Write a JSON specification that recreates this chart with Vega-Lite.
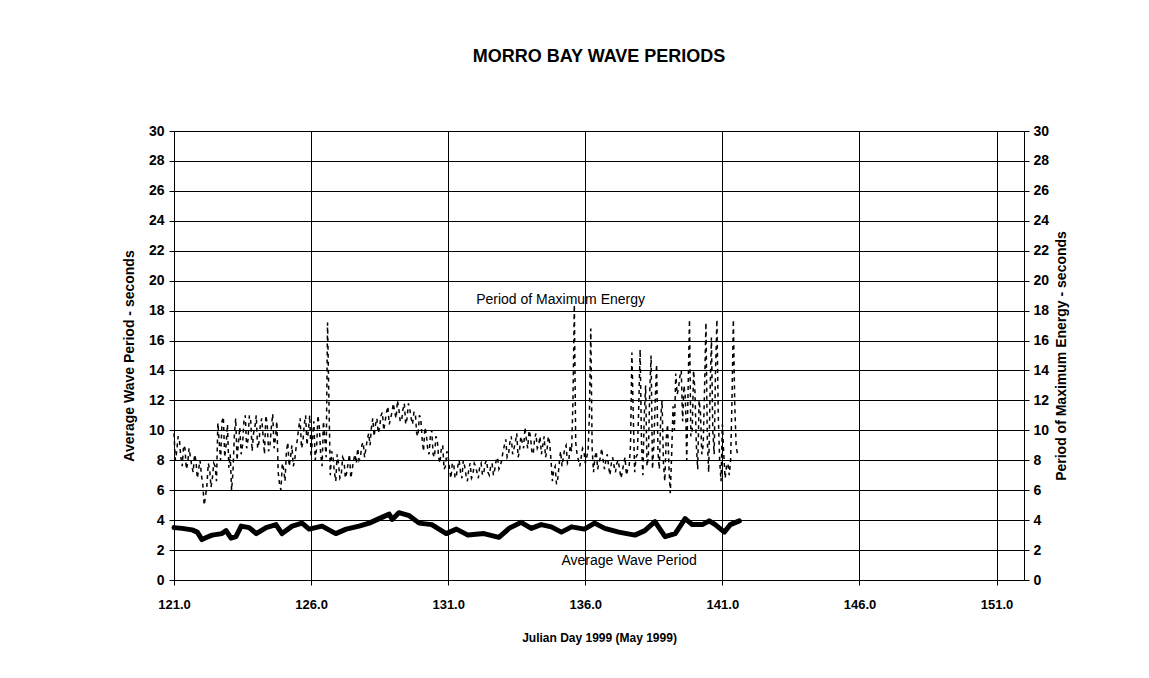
{
  "$schema": "https://vega.github.io/schema/vega-lite/v6.json",
  "width": 850,
  "height": 449,
  "autosize": {"type": "none"},
  "padding": {"left": 174, "top": 131, "right": 125, "bottom": 98},
  "background": "white",
  "title": {"text": "MORRO BAY WAVE PERIODS", "fontSize": 18, "font": "Liberation Sans", "fontWeight": "bold", "color": "black", "anchor": "middle", "offset": 58},
  "config": {
    "font": "Liberation Sans",
    "view": {"stroke": "#555", "strokeWidth": 1},
    "axis": {"labelColor": "black", "titleColor": "black", "domainColor": "black", "tickColor": "black", "gridColor": "black", "gridWidth": 1, "gridOpacity": 1, "labelFont": "Liberation Sans", "titleFont": "Liberation Sans", "labelFontWeight": "bold", "titleFontWeight": "bold"}
  },
  "datasets": {
    "avg": [
      {"day": 121.0, "v": 3.5}, {"day": 121.3, "v": 3.45}, {"day": 121.66, "v": 3.35}, {"day": 121.85, "v": 3.2}, {"day": 122.02, "v": 2.7}, {"day": 122.2, "v": 2.85}, {"day": 122.39, "v": 3.0}, {"day": 122.75, "v": 3.1}, {"day": 122.9, "v": 3.3}, {"day": 123.08, "v": 2.8}, {"day": 123.26, "v": 2.9}, {"day": 123.45, "v": 3.6}, {"day": 123.74, "v": 3.5}, {"day": 124.0, "v": 3.1}, {"day": 124.36, "v": 3.5}, {"day": 124.72, "v": 3.7}, {"day": 124.94, "v": 3.1}, {"day": 125.31, "v": 3.6}, {"day": 125.67, "v": 3.8}, {"day": 125.93, "v": 3.4}, {"day": 126.4, "v": 3.6}, {"day": 126.9, "v": 3.1}, {"day": 127.28, "v": 3.4}, {"day": 127.75, "v": 3.6}, {"day": 128.12, "v": 3.8}, {"day": 128.48, "v": 4.1}, {"day": 128.85, "v": 4.4}, {"day": 128.96, "v": 4.05}, {"day": 129.2, "v": 4.5}, {"day": 129.58, "v": 4.3}, {"day": 129.94, "v": 3.8}, {"day": 130.4, "v": 3.7}, {"day": 130.93, "v": 3.1}, {"day": 131.3, "v": 3.4}, {"day": 131.72, "v": 3.0}, {"day": 132.3, "v": 3.1}, {"day": 132.85, "v": 2.85}, {"day": 133.22, "v": 3.45}, {"day": 133.66, "v": 3.85}, {"day": 134.03, "v": 3.45}, {"day": 134.39, "v": 3.7}, {"day": 134.76, "v": 3.55}, {"day": 135.13, "v": 3.2}, {"day": 135.5, "v": 3.55}, {"day": 135.97, "v": 3.4}, {"day": 136.34, "v": 3.8}, {"day": 136.71, "v": 3.45}, {"day": 137.22, "v": 3.2}, {"day": 137.81, "v": 3.0}, {"day": 138.17, "v": 3.3}, {"day": 138.54, "v": 3.9}, {"day": 138.91, "v": 2.9}, {"day": 139.28, "v": 3.1}, {"day": 139.64, "v": 4.1}, {"day": 139.9, "v": 3.7}, {"day": 140.27, "v": 3.7}, {"day": 140.52, "v": 3.95}, {"day": 140.74, "v": 3.7}, {"day": 141.07, "v": 3.2}, {"day": 141.29, "v": 3.7}, {"day": 141.62, "v": 3.95}
    ],
    "pme": [
      {"day": 121.0, "v": 9.8}, {"day": 121.1, "v": 8.6}, {"day": 121.2, "v": 9.3}, {"day": 121.3, "v": 7.6}, {"day": 121.4, "v": 8.8}, {"day": 121.5, "v": 7.8}, {"day": 121.6, "v": 8.2}, {"day": 121.7, "v": 7.2}, {"day": 121.8, "v": 8.0}, {"day": 121.9, "v": 7.4}, {"day": 122.0, "v": 7.0}, {"day": 122.1, "v": 5.0}, {"day": 122.2, "v": 6.3}, {"day": 122.3, "v": 7.4}, {"day": 122.4, "v": 6.8}, {"day": 122.5, "v": 7.6}, {"day": 122.6, "v": 10.5}, {"day": 122.7, "v": 8.0}, {"day": 122.8, "v": 10.9}, {"day": 122.9, "v": 9.0},
      {"day": 123.0, "v": 7.5}, {"day": 123.1, "v": 6.0}, {"day": 123.2, "v": 9.6}, {"day": 123.3, "v": 8.0}, {"day": 123.4, "v": 10.2}, {"day": 123.5, "v": 9.0}, {"day": 123.6, "v": 11.0}, {"day": 123.7, "v": 9.4}, {"day": 123.8, "v": 10.6}, {"day": 123.9, "v": 9.8}, {"day": 124.0, "v": 11.0}, {"day": 124.1, "v": 9.2}, {"day": 124.2, "v": 10.8}, {"day": 124.3, "v": 8.4}, {"day": 124.4, "v": 10.4}, {"day": 124.5, "v": 9.0}, {"day": 124.6, "v": 11.1}, {"day": 124.7, "v": 9.5}, {"day": 124.8, "v": 7.2}, {"day": 124.9, "v": 6.0},
      {"day": 125.0, "v": 7.4}, {"day": 125.1, "v": 8.6}, {"day": 125.2, "v": 7.6}, {"day": 125.3, "v": 9.0}, {"day": 125.4, "v": 8.0}, {"day": 125.5, "v": 9.4}, {"day": 125.6, "v": 10.8}, {"day": 125.7, "v": 9.2}, {"day": 125.8, "v": 11.0}, {"day": 125.9, "v": 10.0}, {"day": 126.0, "v": 8.2}, {"day": 126.1, "v": 10.6}, {"day": 126.2, "v": 8.8}, {"day": 126.3, "v": 10.2}, {"day": 126.4, "v": 7.6}, {"day": 126.5, "v": 9.4}, {"day": 126.6, "v": 17.2}, {"day": 126.7, "v": 7.0}, {"day": 126.8, "v": 8.2}, {"day": 126.9, "v": 6.6},
      {"day": 127.0, "v": 7.8}, {"day": 127.1, "v": 7.0}, {"day": 127.2, "v": 8.0}, {"day": 127.3, "v": 7.2}, {"day": 127.4, "v": 8.4}, {"day": 127.5, "v": 7.4}, {"day": 127.6, "v": 8.4}, {"day": 127.7, "v": 8.8}, {"day": 127.8, "v": 8.2}, {"day": 127.9, "v": 9.2}, {"day": 128.0, "v": 8.8}, {"day": 128.1, "v": 9.8}, {"day": 128.2, "v": 10.2}, {"day": 128.3, "v": 9.6}, {"day": 128.4, "v": 10.8}, {"day": 128.5, "v": 10.2}, {"day": 128.6, "v": 11.2}, {"day": 128.7, "v": 10.6}, {"day": 128.8, "v": 11.6}, {"day": 128.9, "v": 10.8},
      {"day": 129.0, "v": 11.8}, {"day": 129.1, "v": 10.8}, {"day": 129.2, "v": 11.4}, {"day": 129.3, "v": 10.6}, {"day": 129.4, "v": 11.8}, {"day": 129.5, "v": 10.8}, {"day": 129.6, "v": 11.4}, {"day": 129.7, "v": 10.4}, {"day": 129.8, "v": 11.2}, {"day": 129.9, "v": 9.6}, {"day": 130.0, "v": 10.8}, {"day": 130.1, "v": 8.6}, {"day": 130.2, "v": 9.8}, {"day": 130.3, "v": 8.4}, {"day": 130.4, "v": 10.0}, {"day": 130.5, "v": 8.2}, {"day": 130.6, "v": 9.4}, {"day": 130.7, "v": 7.8}, {"day": 130.8, "v": 9.0}, {"day": 130.9, "v": 7.6},
      {"day": 131.0, "v": 8.2}, {"day": 131.1, "v": 6.8}, {"day": 131.2, "v": 7.8}, {"day": 131.3, "v": 7.0}, {"day": 131.4, "v": 8.0}, {"day": 131.5, "v": 6.8}, {"day": 131.6, "v": 7.6}, {"day": 131.7, "v": 6.6}, {"day": 131.8, "v": 7.8}, {"day": 131.9, "v": 7.0}, {"day": 132.0, "v": 7.6}, {"day": 132.1, "v": 6.8}, {"day": 132.2, "v": 7.8}, {"day": 132.3, "v": 7.2}, {"day": 132.4, "v": 8.0}, {"day": 132.5, "v": 7.0}, {"day": 132.6, "v": 7.8}, {"day": 132.7, "v": 7.4}, {"day": 132.8, "v": 8.2}, {"day": 132.9, "v": 7.6},
      {"day": 133.0, "v": 8.6}, {"day": 133.1, "v": 9.4}, {"day": 133.2, "v": 8.4}, {"day": 133.3, "v": 9.6}, {"day": 133.4, "v": 8.8}, {"day": 133.5, "v": 9.8}, {"day": 133.6, "v": 8.6}, {"day": 133.7, "v": 9.2}, {"day": 133.8, "v": 10.2}, {"day": 133.9, "v": 8.8}, {"day": 134.0, "v": 9.6}, {"day": 134.1, "v": 8.4}, {"day": 134.2, "v": 9.8}, {"day": 134.3, "v": 9.0}, {"day": 134.4, "v": 8.4}, {"day": 134.5, "v": 9.6}, {"day": 134.6, "v": 8.6}, {"day": 134.7, "v": 9.2}, {"day": 134.8, "v": 6.6}, {"day": 134.9, "v": 7.6},
      {"day": 135.0, "v": 6.8}, {"day": 135.1, "v": 8.6}, {"day": 135.2, "v": 8.2}, {"day": 135.3, "v": 9.0}, {"day": 135.4, "v": 8.0}, {"day": 135.5, "v": 8.6}, {"day": 135.6, "v": 18.4}, {"day": 135.7, "v": 8.4}, {"day": 135.8, "v": 7.6}, {"day": 135.9, "v": 8.8}, {"day": 136.0, "v": 7.8}, {"day": 136.1, "v": 8.6}, {"day": 136.2, "v": 16.8}, {"day": 136.3, "v": 7.2}, {"day": 136.4, "v": 8.6}, {"day": 136.5, "v": 7.8}, {"day": 136.6, "v": 8.8}, {"day": 136.7, "v": 7.4}, {"day": 136.8, "v": 8.4}, {"day": 136.9, "v": 7.0},
      {"day": 137.0, "v": 8.2}, {"day": 137.1, "v": 7.2}, {"day": 137.2, "v": 8.0}, {"day": 137.3, "v": 6.8}, {"day": 137.4, "v": 7.8}, {"day": 137.5, "v": 7.0}, {"day": 137.6, "v": 7.6}, {"day": 137.7, "v": 15.2}, {"day": 137.8, "v": 7.2}, {"day": 137.9, "v": 8.4}, {"day": 138.0, "v": 15.4}, {"day": 138.1, "v": 7.0}, {"day": 138.2, "v": 13.0}, {"day": 138.3, "v": 8.2}, {"day": 138.4, "v": 15.0}, {"day": 138.5, "v": 9.0}, {"day": 138.6, "v": 14.4}, {"day": 138.7, "v": 7.4}, {"day": 138.8, "v": 12.0}, {"day": 138.9, "v": 6.6},
      {"day": 139.0, "v": 10.4}, {"day": 139.1, "v": 5.8}, {"day": 139.2, "v": 11.6}, {"day": 139.3, "v": 13.8}, {"day": 139.4, "v": 12.8}, {"day": 139.5, "v": 14.0}, {"day": 139.6, "v": 13.0}, {"day": 139.7, "v": 8.0}, {"day": 139.8, "v": 17.4}, {"day": 139.9, "v": 10.0}, {"day": 140.0, "v": 12.6}, {"day": 140.1, "v": 7.4}, {"day": 140.2, "v": 11.2}, {"day": 140.3, "v": 9.0}, {"day": 140.4, "v": 17.2}, {"day": 140.5, "v": 7.2}, {"day": 140.6, "v": 16.2}, {"day": 140.7, "v": 8.4}, {"day": 140.8, "v": 17.4}, {"day": 140.9, "v": 8.0},
      {"day": 141.0, "v": 10.4}, {"day": 141.1, "v": 6.8}, {"day": 141.2, "v": 7.8}, {"day": 141.3, "v": 8.0}, {"day": 141.4, "v": 17.4}, {"day": 141.5, "v": 9.0}, {"day": 141.55, "v": 8.4},
      {"day": 121.05, "v": 8.0}, {"day": 121.15, "v": 9.6}, {"day": 121.25, "v": 8.2}, {"day": 121.35, "v": 9.0}, {"day": 121.45, "v": 7.4}, {"day": 121.55, "v": 8.8}, {"day": 121.65, "v": 7.6}, {"day": 121.75, "v": 8.4}, {"day": 121.85, "v": 6.8}, {"day": 121.95, "v": 8.0},
      {"day": 122.05, "v": 6.4}, {"day": 122.15, "v": 5.6}, {"day": 122.25, "v": 7.8}, {"day": 122.35, "v": 6.2}, {"day": 122.45, "v": 7.8}, {"day": 122.55, "v": 6.6}, {"day": 122.65, "v": 9.2}, {"day": 122.75, "v": 10.6}, {"day": 122.85, "v": 8.2}, {"day": 122.95, "v": 10.4},
      {"day": 123.05, "v": 8.4}, {"day": 123.15, "v": 7.2}, {"day": 123.25, "v": 10.8}, {"day": 123.35, "v": 9.2}, {"day": 123.45, "v": 8.4}, {"day": 123.55, "v": 10.6}, {"day": 123.65, "v": 8.8}, {"day": 123.75, "v": 11.0}, {"day": 123.85, "v": 8.6}, {"day": 123.95, "v": 10.2},
      {"day": 124.05, "v": 8.8}, {"day": 124.15, "v": 10.4}, {"day": 124.25, "v": 9.6}, {"day": 124.35, "v": 11.0}, {"day": 124.45, "v": 8.6}, {"day": 124.55, "v": 10.2}, {"day": 124.65, "v": 8.8}, {"day": 124.75, "v": 10.6}, {"day": 124.85, "v": 6.4}, {"day": 124.95, "v": 7.8},
      {"day": 125.05, "v": 6.6}, {"day": 125.15, "v": 9.2}, {"day": 125.25, "v": 8.2}, {"day": 125.35, "v": 7.6}, {"day": 125.45, "v": 8.8}, {"day": 125.55, "v": 10.2}, {"day": 125.65, "v": 8.8}, {"day": 125.75, "v": 10.4}, {"day": 125.85, "v": 9.0}, {"day": 125.95, "v": 11.0},
      {"day": 126.05, "v": 9.4}, {"day": 126.15, "v": 8.0}, {"day": 126.25, "v": 11.0}, {"day": 126.35, "v": 8.4}, {"day": 126.45, "v": 10.6}, {"day": 126.55, "v": 8.2}, {"day": 126.65, "v": 12.0}, {"day": 126.75, "v": 8.6}, {"day": 126.85, "v": 7.2}, {"day": 126.95, "v": 8.4},
      {"day": 127.05, "v": 6.8}, {"day": 127.15, "v": 8.2}, {"day": 127.25, "v": 6.8}, {"day": 127.35, "v": 7.8}, {"day": 127.45, "v": 6.8}, {"day": 127.55, "v": 8.0}, {"day": 127.65, "v": 7.8}, {"day": 127.75, "v": 8.0}, {"day": 127.85, "v": 9.0}, {"day": 127.95, "v": 8.2},
      {"day": 128.05, "v": 9.4}, {"day": 128.15, "v": 9.0}, {"day": 128.25, "v": 10.8}, {"day": 128.35, "v": 10.4}, {"day": 128.45, "v": 9.8}, {"day": 128.55, "v": 11.0}, {"day": 128.65, "v": 10.0}, {"day": 128.75, "v": 11.2}, {"day": 128.85, "v": 10.4}, {"day": 128.95, "v": 11.2},
      {"day": 129.05, "v": 11.2}, {"day": 129.15, "v": 12.0}, {"day": 129.25, "v": 10.6}, {"day": 129.35, "v": 11.4}, {"day": 129.45, "v": 10.4}, {"day": 129.55, "v": 11.8}, {"day": 129.65, "v": 10.8}, {"day": 129.75, "v": 11.2}, {"day": 129.85, "v": 9.8}, {"day": 129.95, "v": 11.0},
      {"day": 130.05, "v": 9.4}, {"day": 130.15, "v": 10.2}, {"day": 130.25, "v": 8.8}, {"day": 130.35, "v": 9.6}, {"day": 130.45, "v": 8.4}, {"day": 130.55, "v": 9.6}, {"day": 130.65, "v": 8.2}, {"day": 130.75, "v": 8.8}, {"day": 130.85, "v": 7.4}, {"day": 130.95, "v": 8.6},
      {"day": 131.05, "v": 7.4}, {"day": 131.15, "v": 7.8}, {"day": 131.25, "v": 6.8}, {"day": 131.35, "v": 7.6}, {"day": 131.45, "v": 7.2}, {"day": 131.55, "v": 8.0}, {"day": 131.65, "v": 7.0}, {"day": 131.75, "v": 7.4}, {"day": 131.85, "v": 6.8}, {"day": 131.95, "v": 7.8},
      {"day": 132.05, "v": 7.2}, {"day": 132.15, "v": 7.6}, {"day": 132.25, "v": 7.0}, {"day": 132.35, "v": 7.8}, {"day": 132.45, "v": 7.2}, {"day": 132.55, "v": 7.6}, {"day": 132.65, "v": 7.0}, {"day": 132.75, "v": 8.0}, {"day": 132.85, "v": 7.4}, {"day": 132.95, "v": 8.0},
      {"day": 133.05, "v": 9.0}, {"day": 133.15, "v": 8.2}, {"day": 133.25, "v": 9.2}, {"day": 133.35, "v": 8.4}, {"day": 133.45, "v": 9.2}, {"day": 133.55, "v": 8.2}, {"day": 133.65, "v": 9.6}, {"day": 133.75, "v": 8.8}, {"day": 133.85, "v": 9.4}, {"day": 133.95, "v": 10.0},
      {"day": 134.05, "v": 8.6}, {"day": 134.15, "v": 9.4}, {"day": 134.25, "v": 8.8}, {"day": 134.35, "v": 9.6}, {"day": 134.45, "v": 9.0}, {"day": 134.55, "v": 8.2}, {"day": 134.65, "v": 9.6}, {"day": 134.75, "v": 8.0}, {"day": 134.85, "v": 7.4}, {"day": 134.95, "v": 6.4},
      {"day": 135.05, "v": 7.8}, {"day": 135.15, "v": 7.6}, {"day": 135.25, "v": 8.8}, {"day": 135.35, "v": 7.8}, {"day": 135.45, "v": 9.0}, {"day": 135.55, "v": 12.0}, {"day": 135.65, "v": 9.2}, {"day": 135.75, "v": 8.0}, {"day": 135.85, "v": 8.2}, {"day": 135.95, "v": 8.6},
      {"day": 136.05, "v": 8.2}, {"day": 136.15, "v": 11.0}, {"day": 136.25, "v": 8.8}, {"day": 136.35, "v": 8.2}, {"day": 136.45, "v": 7.4}, {"day": 136.55, "v": 8.2}, {"day": 136.65, "v": 8.0}, {"day": 136.75, "v": 8.0}, {"day": 136.85, "v": 7.6}, {"day": 136.95, "v": 7.8},
      {"day": 137.05, "v": 7.6}, {"day": 137.15, "v": 7.8}, {"day": 137.25, "v": 7.4}, {"day": 137.35, "v": 7.2}, {"day": 137.45, "v": 8.2}, {"day": 137.55, "v": 7.4}, {"day": 137.65, "v": 9.0}, {"day": 137.75, "v": 11.0}, {"day": 137.85, "v": 8.2}, {"day": 137.95, "v": 11.6},
      {"day": 138.05, "v": 9.2}, {"day": 138.15, "v": 11.0}, {"day": 138.25, "v": 7.6}, {"day": 138.35, "v": 12.6}, {"day": 138.45, "v": 7.4}, {"day": 138.55, "v": 12.0}, {"day": 138.65, "v": 8.6}, {"day": 138.75, "v": 10.8}, {"day": 138.85, "v": 7.8}, {"day": 138.95, "v": 9.4},
      {"day": 139.05, "v": 7.6}, {"day": 139.15, "v": 8.4}, {"day": 139.25, "v": 10.0}, {"day": 139.35, "v": 12.4}, {"day": 139.45, "v": 13.6}, {"day": 139.55, "v": 10.6}, {"day": 139.65, "v": 12.2}, {"day": 139.75, "v": 12.8}, {"day": 139.85, "v": 9.6}, {"day": 139.95, "v": 14.0},
      {"day": 140.05, "v": 9.0}, {"day": 140.15, "v": 12.0}, {"day": 140.25, "v": 8.4}, {"day": 140.35, "v": 12.8}, {"day": 140.45, "v": 9.4}, {"day": 140.55, "v": 12.4}, {"day": 140.65, "v": 10.0}, {"day": 140.75, "v": 14.0}, {"day": 140.85, "v": 11.0}, {"day": 140.95, "v": 6.6},
      {"day": 141.05, "v": 8.4}, {"day": 141.15, "v": 7.6}, {"day": 141.25, "v": 7.0}, {"day": 141.35, "v": 12.0}, {"day": 141.45, "v": 11.8}
    ],
    "notes": [
      {"label": "Period of Maximum Energy", "day": 135.1, "v": 18.7},
      {"label": "Average Wave Period", "day": 137.6, "v": 1.3}
    ]
  },
  "layer": [
    {
      "data": {"name": "avg"},
      "mark": {"type": "line", "color": "black", "strokeWidth": 5, "strokeJoin": "round", "strokeCap": "round"},
      "encoding": {
        "x": {"field": "day", "type": "quantitative", "scale": {"domain": [121, 152], "nice": false, "zero": false},
          "axis": {"values": [121, 126, 131, 136, 141, 146, 151], "format": ".1f", "grid": true, "tickSize": 5, "labelFlush": false, "labelFontSize": 13, "labelPadding": 13, "title": "Julian Day 1999 (May 1999)", "titleFontSize": 12, "titlePadding": 21}},
        "y": {"field": "v", "type": "quantitative", "scale": {"domain": [0, 30], "nice": false},
          "axis": {"orient": "left", "values": [0, 2, 4, 6, 8, 10, 12, 14, 16, 18, 20, 22, 24, 26, 28, 30], "grid": true, "tickSize": 5, "labelFontSize": 14, "labelPadding": 5, "title": "Average Wave Period - seconds", "titleFontSize": 14, "titlePadding": 12}}
      }
    },
    {
      "data": {"name": "pme"},
      "mark": {"type": "line", "color": "black", "strokeWidth": 1.5, "strokeDash": [4, 4]},
      "encoding": {
        "x": {"field": "day", "type": "quantitative"},
        "y": {"field": "v", "type": "quantitative", "scale": {"domain": [0, 30], "nice": false},
          "axis": {"orient": "right", "values": [0, 2, 4, 6, 8, 10, 12, 14, 16, 18, 20, 22, 24, 26, 28, 30], "grid": false, "tickSize": 5, "labelFontSize": 14, "labelPadding": 4, "title": "Period of Maximum Energy - seconds", "titleFontSize": 14, "titleAngle": 270, "titlePadding": 20}}
      }
    },
    {
      "data": {"name": "notes"},
      "mark": {"type": "text", "color": "black", "fontSize": 14, "font": "Liberation Sans", "align": "center", "baseline": "middle"},
      "encoding": {
        "x": {"field": "day", "type": "quantitative"},
        "y": {"field": "v", "type": "quantitative", "scale": {"domain": [0, 30], "nice": false}, "axis": null},
        "text": {"field": "label"}
      }
    }
  ],
  "resolve": {"scale": {"y": "independent"}, "axis": {"y": "independent"}}
}
